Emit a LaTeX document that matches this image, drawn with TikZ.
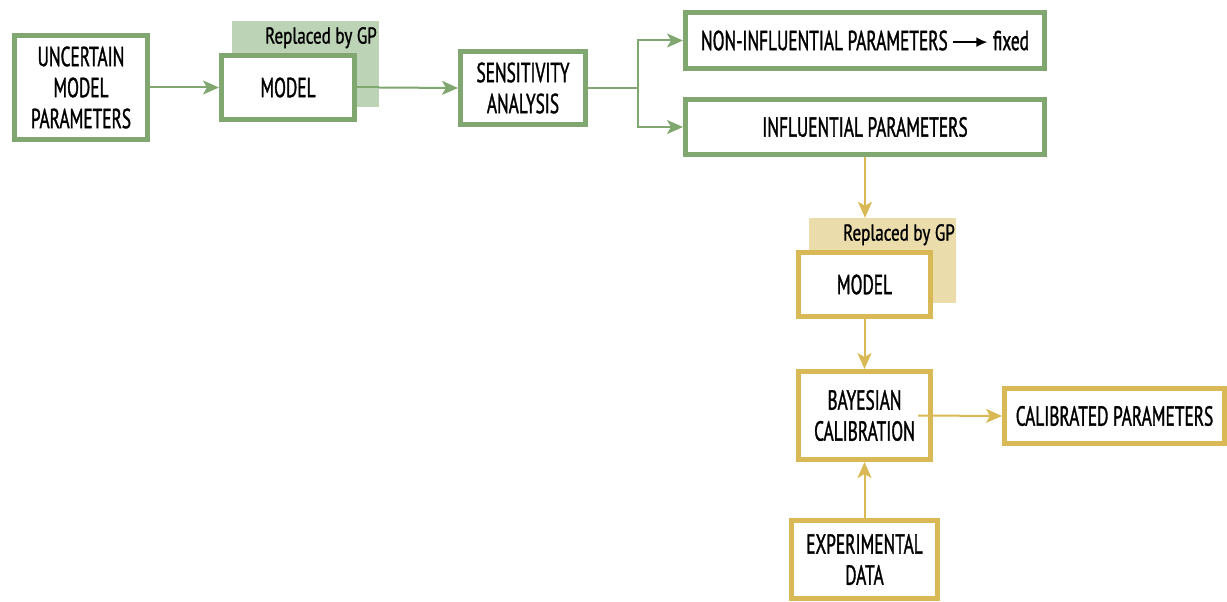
\documentclass[tikz,border=0pt]{standalone}
\usepackage{fontspec}
\newfontfamily\cond[FakeStretch=0.63,FakeBold=1.2]{PT Sans}
\newfontfamily\condb[FakeStretch=0.74,FakeBold=1.0]{PT Sans}
\usetikzlibrary{arrows.meta,calc}
\definecolor{gline}{HTML}{7FA76F}
\definecolor{gshade}{HTML}{BDD3B6}
\definecolor{yline}{HTML}{D9B955}
\definecolor{yshade}{HTML}{EBDCAB}
\begin{document}
\begin{tikzpicture}[x=1pt,y=-1pt,
  box/.style={draw=#1,line width=5pt,fill=white,inner sep=0pt,align=center,
    font=\cond\fontsize{27.5}{31}\selectfont},
  shade/.style={fill=#1,inner sep=0pt},
  gtxt/.style={font=\condb\fontsize{23}{25}\selectfont,inner sep=0pt,anchor=north east},
  arr/.style={draw=#1,line width=2pt,-{Stealth[length=16pt,width=14pt,inset=4pt]}}]
\useasboundingbox (0,0) rectangle (1227,602);
% shadows
\node[shade=gshade,minimum width=147pt,minimum height=86pt] (sh1) at (305.5,64) {};
\node[gtxt] (gp1) at (377,27) {Replaced by GP};
\node[shade=yshade,minimum width=147pt,minimum height=85pt] (sh2) at (882.5,260.5) {};
\node[gtxt] (gp2) at (955,224) {Replaced by GP};
% green boxes
\node[box=gline,minimum width=133pt,minimum height=104pt] (unc) at (81,87.5) {UNCERTAIN\\MODEL\\PARAMETERS};
\node[box=gline,minimum width=133pt,minimum height=64pt] (mod1) at (288,87.5) {MODEL};
\node[box=gline,minimum width=125pt,minimum height=73pt] (sens) at (523,88) {SENSITIVITY\\ANALYSIS};
\node[box=gline,minimum width=359pt,minimum height=56pt] (non) at (865,40.5) {NON-INFLUENTIAL PARAMETERS \tikz[baseline=-8pt,x=1pt,y=1pt]\draw[line width=2pt,-{Latex[length=11pt,width=10pt]}] (0,0) -- (34,0); fixed};
\node[box=gline,minimum width=359pt,minimum height=55pt] (infl) at (865,127) {INFLUENTIAL PARAMETERS};
% yellow boxes
\node[box=yline,minimum width=132pt,minimum height=64pt] (mod2) at (864.5,284.5) {MODEL};
\node[box=yline,minimum width=132pt,minimum height=88pt] (bay) at (864.5,415.5) {BAYESIAN\\CALIBRATION};
\node[box=yline,minimum width=220pt,minimum height=55pt] (cal) at (1114.5,416) {CALIBRATED PARAMETERS};
\node[box=yline,minimum width=146pt,minimum height=78pt] (exp) at (864.5,559.5) {EXPERIMENTAL\\DATA};
% green connectors
\draw[arr=gline] (unc.east) -- (mod1.west);
\draw[gline,line width=2pt] (mod1.east) -- (sh1.east |- mod1.east);
\draw[arr=gline] (sh1.east |- mod1.east) -- (sens.west);
\coordinate (br) at ($(sens.east)+(50,0)$);
\draw[gline,line width=2pt] (sens.east) -- (br);
\draw[arr=gline] (br) |- (non.west);
\draw[arr=gline] (br) |- (infl.west);
% yellow connectors
\draw[arr=yline] (infl.south) -- (infl.south |- sh2.north);
\draw[arr=yline] (mod2.south) -- (bay.north);
\draw[arr=yline] (exp.north) -- (bay.south);
\draw[arr=yline] ($(bay.center)+(53.5,0)$) -- (cal.west);
\end{tikzpicture}
\end{document}
